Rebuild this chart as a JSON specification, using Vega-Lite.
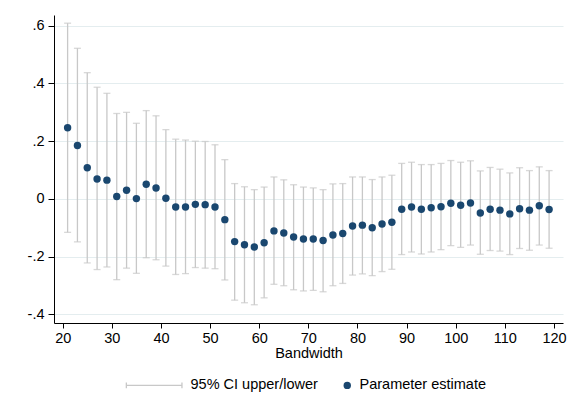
{
  "$schema": "https://vega.github.io/schema/vega-lite/v6.json",
  "width": 509,
  "height": 308,
  "autosize": {"type": "none"},
  "padding": {"left": 54, "top": 15, "right": 13, "bottom": 95},
  "background": "white",
  "data": {
    "values": [
      {"bw": 21, "est": 0.2465, "lo": -0.116, "hi": 0.609},
      {"bw": 23, "est": 0.185, "lo": -0.149, "hi": 0.522},
      {"bw": 25, "est": 0.108, "lo": -0.222, "hi": 0.4375},
      {"bw": 27, "est": 0.069, "lo": -0.245, "hi": 0.387},
      {"bw": 29, "est": 0.065, "lo": -0.236, "hi": 0.366},
      {"bw": 31, "est": 0.008, "lo": -0.280, "hi": 0.296},
      {"bw": 33, "est": 0.030, "lo": -0.240, "hi": 0.300},
      {"bw": 35, "est": 0.001, "lo": -0.258, "hi": 0.262},
      {"bw": 37, "est": 0.051, "lo": -0.204, "hi": 0.306},
      {"bw": 39, "est": 0.038, "lo": -0.211, "hi": 0.288},
      {"bw": 41, "est": 0.002, "lo": -0.233, "hi": 0.240},
      {"bw": 43, "est": -0.028, "lo": -0.262, "hi": 0.207},
      {"bw": 45, "est": -0.028, "lo": -0.259, "hi": 0.204},
      {"bw": 47, "est": -0.019, "lo": -0.238, "hi": 0.200},
      {"bw": 49, "est": -0.020, "lo": -0.240, "hi": 0.199},
      {"bw": 51, "est": -0.028, "lo": -0.242, "hi": 0.1875},
      {"bw": 53, "est": -0.072, "lo": -0.281, "hi": 0.136},
      {"bw": 55, "est": -0.148, "lo": -0.351, "hi": 0.053},
      {"bw": 57, "est": -0.159, "lo": -0.360, "hi": 0.042},
      {"bw": 59, "est": -0.167, "lo": -0.367, "hi": 0.032},
      {"bw": 61, "est": -0.152, "lo": -0.343, "hi": 0.041},
      {"bw": 63, "est": -0.111, "lo": -0.296, "hi": 0.076},
      {"bw": 65, "est": -0.118, "lo": -0.301, "hi": 0.066},
      {"bw": 67, "est": -0.132, "lo": -0.315, "hi": 0.049},
      {"bw": 69, "est": -0.139, "lo": -0.319, "hi": 0.041},
      {"bw": 71, "est": -0.139, "lo": -0.317, "hi": 0.038},
      {"bw": 73, "est": -0.144, "lo": -0.322, "hi": 0.032},
      {"bw": 75, "est": -0.125, "lo": -0.301, "hi": 0.052},
      {"bw": 77, "est": -0.120, "lo": -0.293, "hi": 0.053},
      {"bw": 79, "est": -0.094, "lo": -0.264, "hi": 0.076},
      {"bw": 81, "est": -0.091, "lo": -0.260, "hi": 0.076},
      {"bw": 83, "est": -0.100, "lo": -0.266, "hi": 0.067},
      {"bw": 85, "est": -0.087, "lo": -0.252, "hi": 0.076},
      {"bw": 87, "est": -0.081, "lo": -0.244, "hi": 0.082},
      {"bw": 89, "est": -0.036, "lo": -0.193, "hi": 0.123},
      {"bw": 91, "est": -0.028, "lo": -0.184, "hi": 0.127},
      {"bw": 93, "est": -0.036, "lo": -0.191, "hi": 0.119},
      {"bw": 95, "est": -0.031, "lo": -0.184, "hi": 0.119},
      {"bw": 97, "est": -0.027, "lo": -0.176, "hi": 0.123},
      {"bw": 99, "est": -0.015, "lo": -0.162, "hi": 0.133},
      {"bw": 101, "est": -0.022, "lo": -0.168, "hi": 0.127},
      {"bw": 103, "est": -0.014, "lo": -0.160, "hi": 0.132},
      {"bw": 105, "est": -0.049, "lo": -0.192, "hi": 0.097},
      {"bw": 107, "est": -0.036, "lo": -0.179, "hi": 0.109},
      {"bw": 109, "est": -0.039, "lo": -0.181, "hi": 0.103},
      {"bw": 111, "est": -0.052, "lo": -0.193, "hi": 0.090},
      {"bw": 113, "est": -0.034, "lo": -0.172, "hi": 0.108},
      {"bw": 115, "est": -0.039, "lo": -0.178, "hi": 0.098},
      {"bw": 117, "est": -0.024, "lo": -0.160, "hi": 0.111},
      {"bw": 119, "est": -0.037, "lo": -0.171, "hi": 0.098}
    ]
  },
  "encoding": {
    "x": {
      "field": "bw",
      "type": "quantitative",
      "scale": {"domain": [18.23, 121.83], "nice": false, "zero": false},
      "axis": {
        "title": "Bandwidth",
        "values": [20, 30, 40, 50, 60, 70, 80, 90, 100, 110, 120],
        "grid": false,
        "tickSize": 5,
        "labelPadding": 3,
        "titlePadding": 2
      }
    }
  },
  "layer": [
    {
      "mark": {"type": "rule", "strokeWidth": 1.3},
      "encoding": {
        "y": {
          "field": "lo",
          "type": "quantitative",
          "scale": {"domain": [-0.4302, 0.6374], "nice": false, "zero": false},
          "axis": {
            "title": null,
            "values": [-0.4, -0.2, 0, 0.2, 0.4, 0.6],
            "labelExpr": "datum.value == 0 ? '0' : (datum.value < 0 ? '-' : '') + '.' + round(abs(datum.value) * 10)",
            "grid": true,
            "tickSize": 6,
            "labelPadding": 4
          }
        },
        "y2": {"field": "hi"},
        "color": {
          "datum": "95% CI upper/lower",
          "scale": {
            "domain": ["95% CI upper/lower", "Parameter estimate"],
            "range": ["#c8c8c8", "#1a476f"]
          },
          "legend": {
            "title": null,
            "orient": "none",
            "direction": "horizontal",
            "legendX": 117,
            "legendY": 363,
            "values": ["95% CI upper/lower", "Parameter estimate"],
            "symbolSize": 55,
            "labelOffset": 5,
            "columnPadding": 22,
            "encode": {
              "symbols": {
                "update": {
                  "shape": {"signal": "datum.value === 'Parameter estimate' ? 'circle' : 'M-14,0H1M-14,-0.8V0.8M1,-0.8V0.8'"},
                  "fill": {"signal": "datum.value === 'Parameter estimate' ? '#1a476f' : 'transparent'"},
                  "stroke": {"signal": "datum.value === 'Parameter estimate' ? 'transparent' : '#c8c8c8'"},
                  "strokeWidth": {"signal": "datum.value === 'Parameter estimate' ? 0 : 1.3"},
                  "opacity": {"value": 1}
                }
              }
            }
          }
        }
      }
    },
    {
      "mark": {"type": "tick", "orient": "horizontal", "size": 7, "thickness": 1.3},
      "encoding": {
        "y": {"field": "hi", "type": "quantitative"},
        "color": {"datum": "95% CI upper/lower"}
      }
    },
    {
      "mark": {"type": "tick", "orient": "horizontal", "size": 7, "thickness": 1.3},
      "encoding": {
        "y": {"field": "lo", "type": "quantitative"},
        "color": {"datum": "95% CI upper/lower"}
      }
    },
    {
      "mark": {"type": "point", "filled": true, "size": 55, "opacity": 1},
      "encoding": {
        "y": {"field": "est", "type": "quantitative"},
        "color": {"datum": "Parameter estimate"}
      }
    }
  ],
  "config": {
    "font": "Liberation Sans",
    "view": {"stroke": null},
    "axis": {
      "labelFont": "Liberation Sans",
      "labelFontSize": 14.5,
      "labelColor": "#000000",
      "titleFont": "Liberation Sans",
      "titleFontSize": 14.5,
      "titleFontWeight": "normal",
      "titleColor": "#000000",
      "domainColor": "#000000",
      "domainWidth": 1,
      "tickColor": "#000000",
      "tickWidth": 1,
      "gridColor": "#e4edef",
      "gridWidth": 1.2
    },
    "axisY": {"labelAngle": 0},
    "legend": {
      "labelFont": "Liberation Sans",
      "labelFontSize": 14.5,
      "labelColor": "#000000"
    }
  }
}
